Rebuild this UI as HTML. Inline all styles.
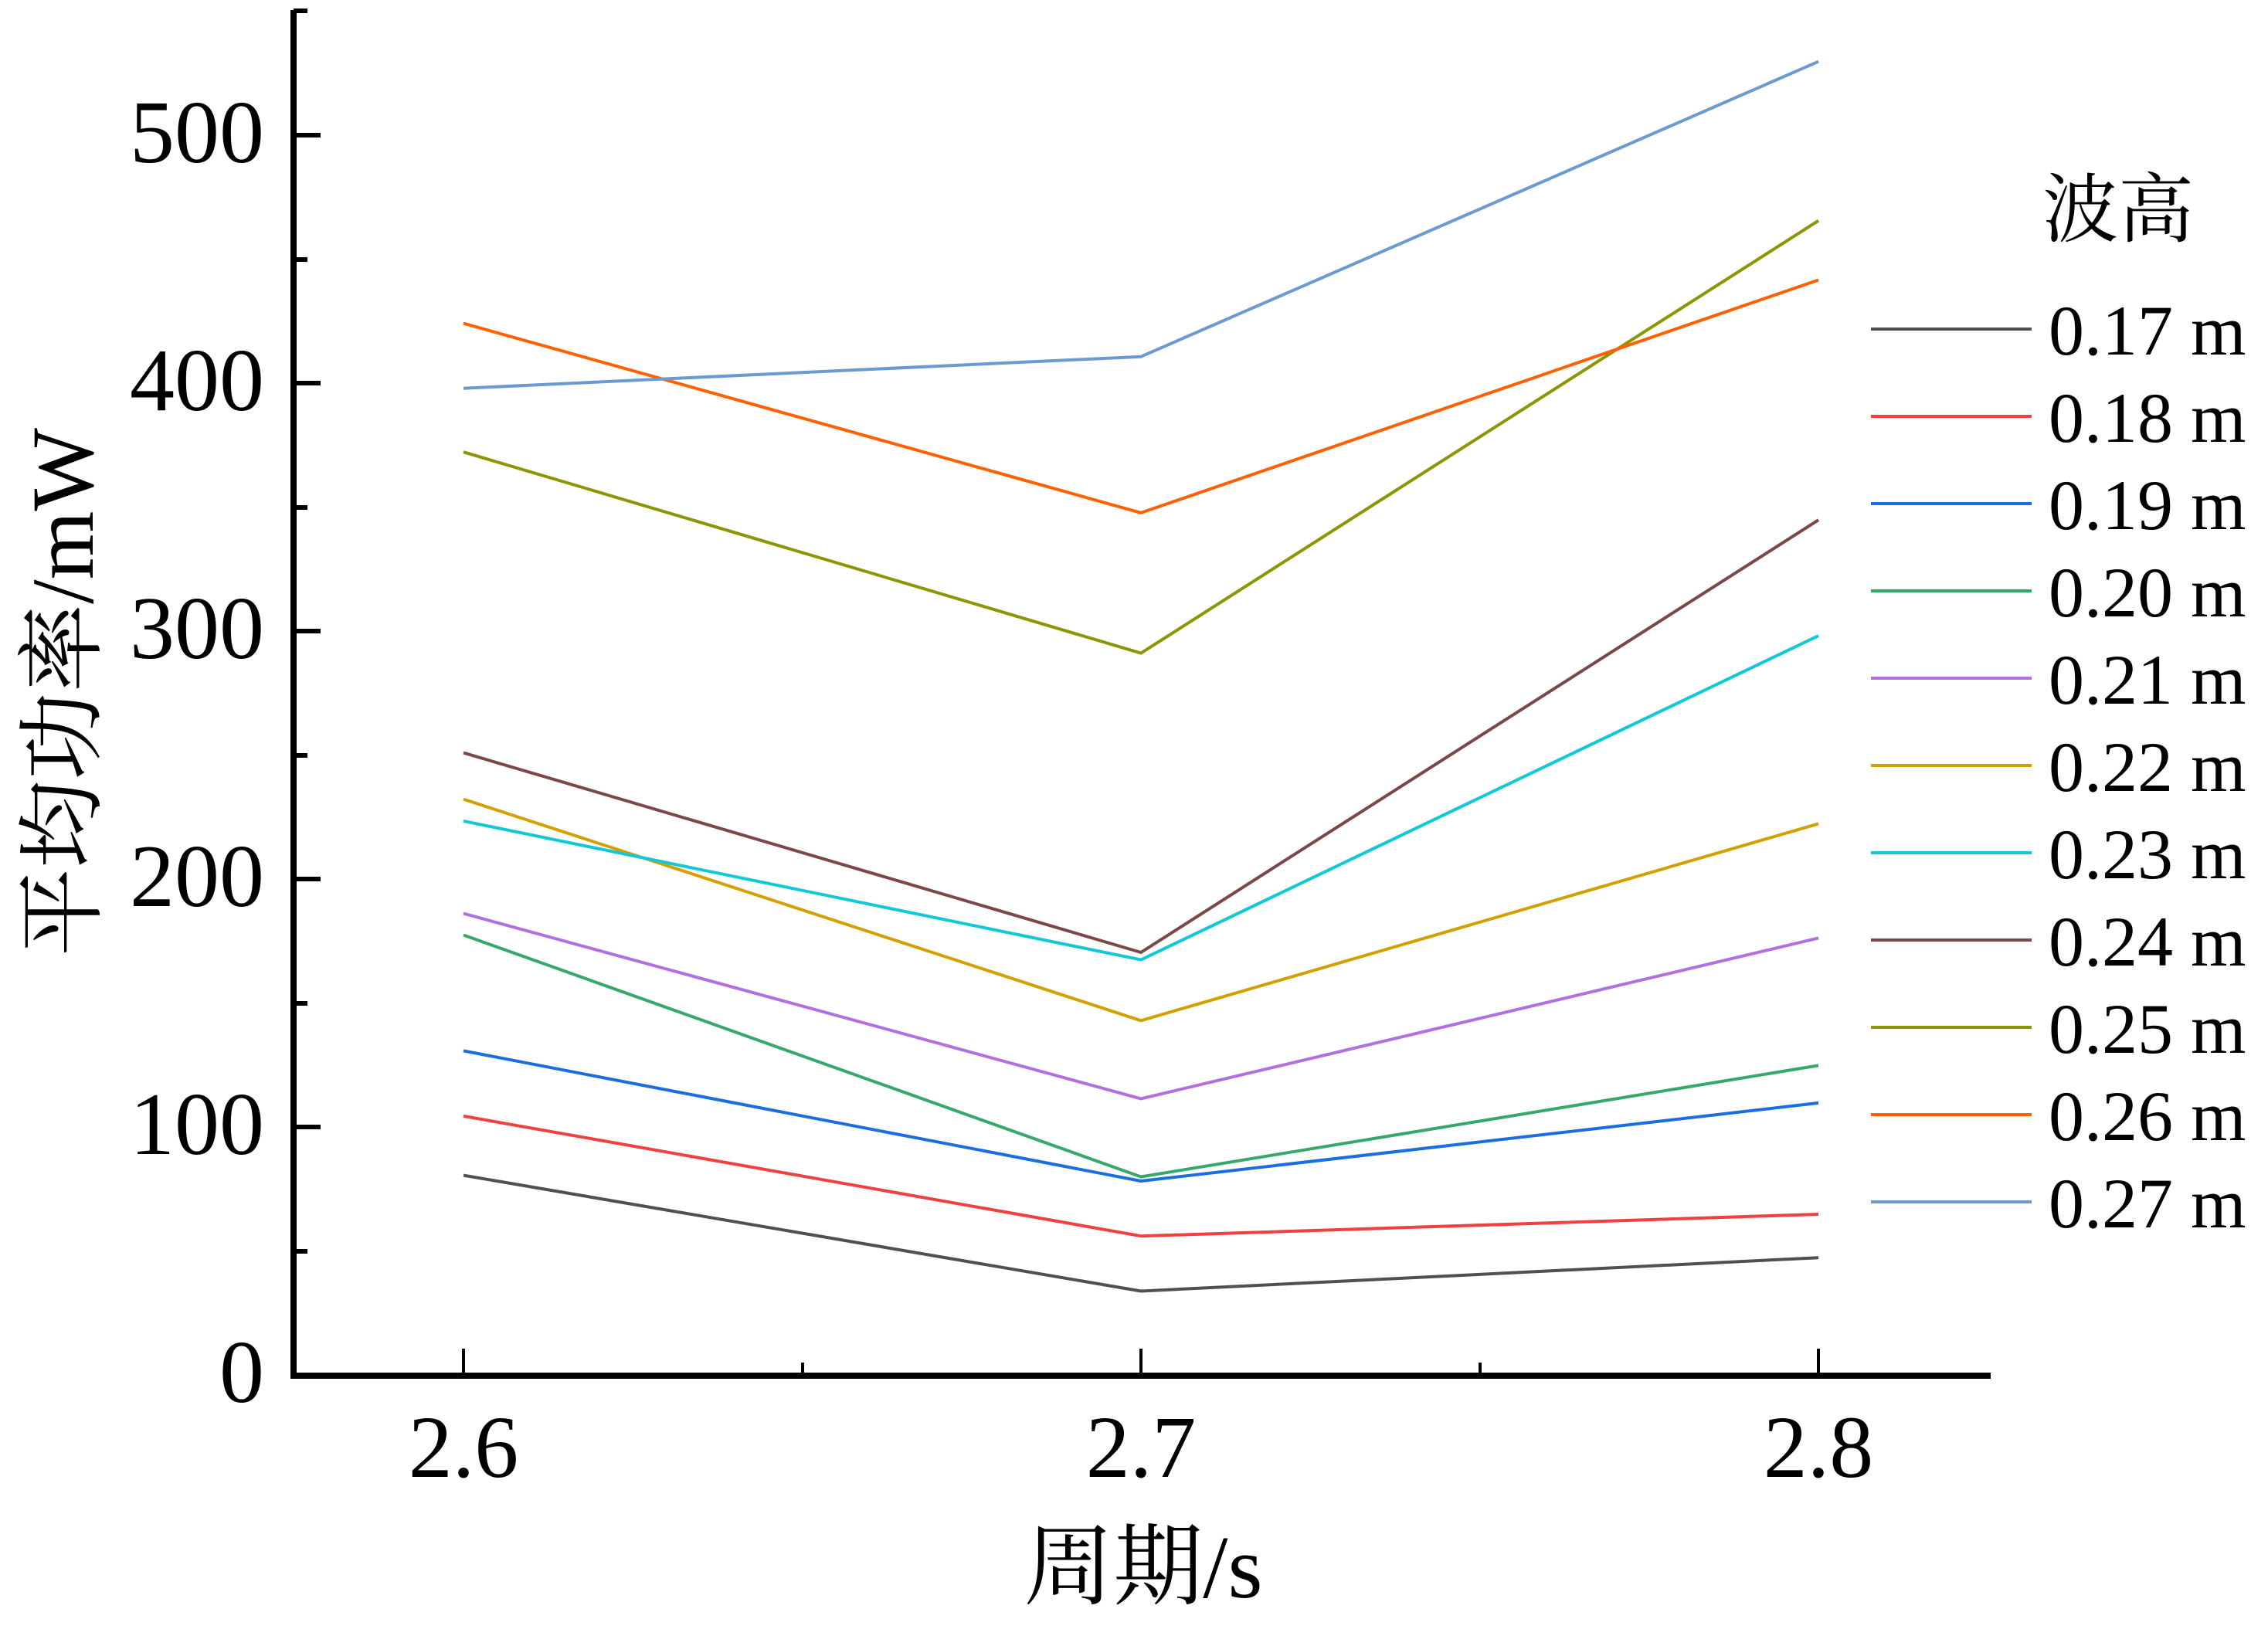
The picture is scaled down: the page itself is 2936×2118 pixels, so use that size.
<!DOCTYPE html>
<html><head><meta charset="utf-8"><style>html,body{margin:0;padding:0;background:#fff}svg{display:block}
.s{font-family:"Liberation Serif","Noto Serif CJK SC",serif}
.c{font-family:"Liberation Serif","Noto Serif CJK SC",serif}</style></head>
<body>
<svg width="2936" height="2118" viewBox="0 0 2936 2118" xmlns="http://www.w3.org/2000/svg">
<g stroke="#000" fill="none">
<line x1="380" y1="13" x2="380" y2="1784" stroke-width="8"/>
<line x1="376" y1="1781" x2="2577" y2="1781" stroke-width="8"/>
<g stroke-width="6">
<line x1="380" y1="175" x2="415" y2="175"/>
<line x1="380" y1="496" x2="415" y2="496"/>
<line x1="380" y1="817" x2="415" y2="817"/>
<line x1="380" y1="1138" x2="415" y2="1138"/>
<line x1="380" y1="1459" x2="415" y2="1459"/>
<line x1="380" y1="14" x2="398" y2="14"/>
<line x1="380" y1="336" x2="398" y2="336"/>
<line x1="380" y1="657" x2="398" y2="657"/>
<line x1="380" y1="978" x2="398" y2="978"/>
<line x1="380" y1="1299" x2="398" y2="1299"/>
<line x1="380" y1="1620" x2="398" y2="1620"/>
</g>
<g stroke-width="4">
<line x1="600" y1="1781" x2="600" y2="1746"/>
<line x1="1477" y1="1781" x2="1477" y2="1746"/>
<line x1="2354" y1="1781" x2="2354" y2="1746"/>
<line x1="1039" y1="1781" x2="1039" y2="1764"/>
<line x1="1916" y1="1781" x2="1916" y2="1764"/>
</g>
</g>
<g class="s" font-size="116" fill="#000" text-anchor="end">
<text x="342" y="210">500</text>
<text x="342" y="531">400</text>
<text x="342" y="852">300</text>
<text x="342" y="1173">200</text>
<text x="342" y="1494">100</text>
<text x="342" y="1815">0</text>
</g>
<g class="s" font-size="114" fill="#000" text-anchor="middle">
<text x="600" y="1912">2.6</text>
<text x="1477" y="1912">2.7</text>
<text x="2354" y="1912">2.8</text>
</g>
<text class="c" x="1480" y="2068" font-size="116" text-anchor="middle">周期/s</text>
<text class="c" transform="translate(120,896) rotate(-90)" font-size="114" text-anchor="middle">平均功率/mW</text>
<g fill="none" stroke-width="4" stroke-linejoin="round">
<polyline stroke="#505050" points="600,1521.6 1477,1671.5 2354,1628.2"/>
<polyline stroke="#f04040" points="600,1444.9 1477,1600.2 2354,1572"/>
<polyline stroke="#1a6ee0" points="600,1360.4 1477,1529 2354,1427.9"/>
<polyline stroke="#36a86a" points="600,1210.5 1477,1523.5 2354,1379.4"/>
<polyline stroke="#b070e0" points="600,1182.6 1477,1422.4 2354,1214.4"/>
<polyline stroke="#d4a000" points="600,1034.6 1477,1321.3 2354,1066.4"/>
<polyline stroke="#10c8d8" points="600,1062.9 1477,1242.6 2354,823.1"/>
<polyline stroke="#7a4848" points="600,974.6 1477,1233 2354,673.2"/>
<polyline stroke="#8c9600" points="600,585.2 1477,845.6 2354,285.7"/>
<polyline stroke="#ff6000" points="600,418.6 1477,663.9 2354,362.5"/>
<polyline stroke="#6a9ad0" points="600,502.7 1477,461.7 2354,79.7"/>
</g>
<text class="c" x="2644" y="305" font-size="98">波高</text>
<g stroke-width="4">
<line x1="2422" y1="426" x2="2630" y2="426" stroke="#505050"/>
<line x1="2422" y1="539" x2="2630" y2="539" stroke="#f04040"/>
<line x1="2422" y1="652" x2="2630" y2="652" stroke="#1a6ee0"/>
<line x1="2422" y1="765" x2="2630" y2="765" stroke="#36a86a"/>
<line x1="2422" y1="878" x2="2630" y2="878" stroke="#b070e0"/>
<line x1="2422" y1="991" x2="2630" y2="991" stroke="#d4a000"/>
<line x1="2422" y1="1104" x2="2630" y2="1104" stroke="#10c8d8"/>
<line x1="2422" y1="1217" x2="2630" y2="1217" stroke="#7a4848"/>
<line x1="2422" y1="1330" x2="2630" y2="1330" stroke="#8c9600"/>
<line x1="2422" y1="1443" x2="2630" y2="1443" stroke="#ff6000"/>
<line x1="2422" y1="1556" x2="2630" y2="1556" stroke="#6a9ad0"/>
</g>
<g class="s" font-size="92" fill="#000">
<text x="2652" y="459">0.17 m</text>
<text x="2652" y="572">0.18 m</text>
<text x="2652" y="685">0.19 m</text>
<text x="2652" y="798">0.20 m</text>
<text x="2652" y="911">0.21 m</text>
<text x="2652" y="1024">0.22 m</text>
<text x="2652" y="1137">0.23 m</text>
<text x="2652" y="1250">0.24 m</text>
<text x="2652" y="1363">0.25 m</text>
<text x="2652" y="1476">0.26 m</text>
<text x="2652" y="1589">0.27 m</text>
</g>
</svg>
</body></html>
